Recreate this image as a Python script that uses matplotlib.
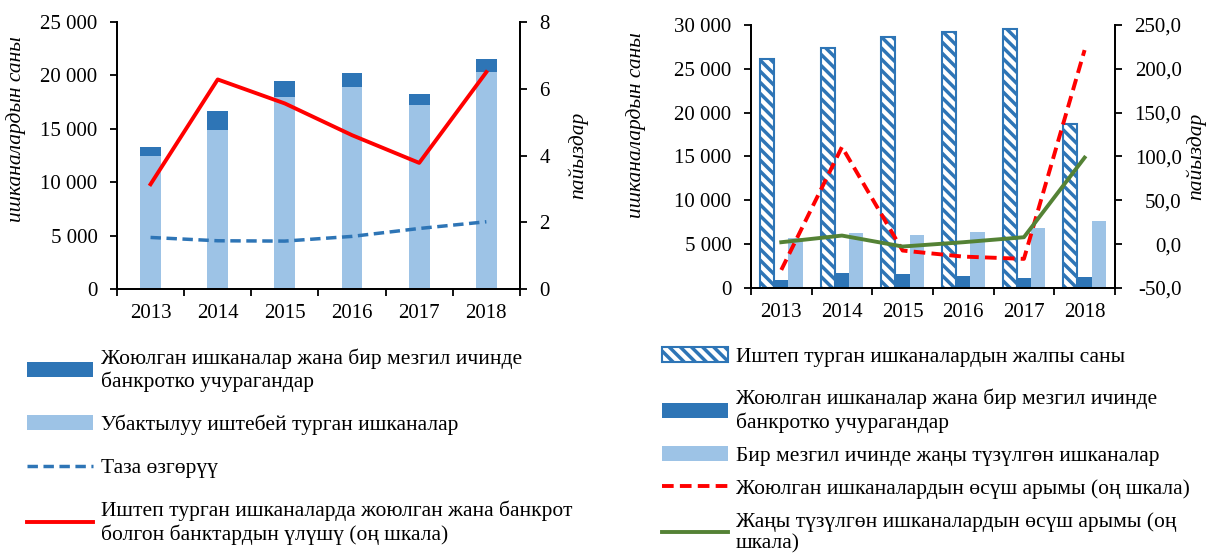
import matplotlib
matplotlib.use("Agg")
import matplotlib.pyplot as plt
import numpy as np
from matplotlib.ticker import FuncFormatter, FixedLocator

plt.rcParams['font.family'] = ['Liberation Serif', 'DejaVu Serif']
plt.rcParams['hatch.linewidth'] = 2.5

years = ['2013', '2014', '2015', '2016', '2017', '2018']

# left chart
idle = [12500, 14930, 17960, 18890, 17200, 20320]           # Убактылуу иштебей турган
closed_left = [780, 1720, 1520, 1310, 1100, 1180]            # Жоюлган ... банкротко
net_change = [4830, 4520, 4490, 4930, 5670, 6300]            # Таза өзгөрүү
closed_share = [3.14, 6.28, 5.56, 4.61, 3.78, 6.5]           # үлүшү (оң шкала), %

# right chart
active_total = [26100, 27330, 28670, 29160, 29580, 18720]
closed_right = [910, 1750, 1640, 1410, 1180, 1300]
new_firms = [5680, 6290, 6100, 6330, 6820, 7590]
closed_growth = [-29.4, 110.9, -7.3, -14.2, -16.8, 221.4]
new_growth = [2.2, 9.8, -2.7, 2.2, 7.9, 98.7]

DARK = '#2E75B6'
LIGHT = '#9DC3E6'
RED = '#FF0000'
GREEN = '#548235'
FS = 15
LFS = 15.5


def space_fmt(v, pos):
    return '{:,.0f}'.format(v).replace(',', ' ')


def comma_fmt(v, pos):
    return '{:.1f}'.format(v).replace('.', ',')


def style_axes(ax, ax2):
    ax.set_xlim(-0.5, 5.5)
    ax.set_xticks(range(6))
    ax.set_xticklabels(years, fontsize=FS)
    ax.xaxis.set_minor_locator(FixedLocator(np.arange(-0.5, 6, 1)))
    ax.tick_params(axis='x', which='major', length=0, pad=11)
    ax.tick_params(axis='x', which='minor', length=5, width=1.3, direction='out')
    ax.tick_params(axis='y', length=5, width=1.3, direction='out', labelsize=FS, pad=9)
    ax2.tick_params(axis='y', length=5, width=1.3, direction='out', labelsize=FS, pad=9)
    for a in (ax, ax2):
        a.spines['top'].set_visible(False)
        for s in ('left', 'right', 'bottom'):
            a.spines[s].set_linewidth(1.3)
    ax.set_ylabel('ишканалардын саны', fontsize=LFS, style='italic')
    ax2.set_ylabel('пайыздар', fontsize=LFS, style='italic', rotation=90)


fig = plt.figure(figsize=(12.12, 5.58), dpi=100)

# ---- left chart
ax = fig.add_axes([0.0965, 0.482, 0.3325, 0.4785])
ax2 = ax.twinx()
x = np.arange(len(years))
b1 = ax.bar(x, idle, width=0.31, color=LIGHT, label='Убактылуу иштебей турган ишканалар')
b2 = ax.bar(x, closed_left, width=0.31, bottom=idle, color=DARK,
            label='Жоюлган ишканалар жана бир мезгил ичинде\nбанкротко учурагандар')
l1, = ax.plot(x, net_change, color=DARK, lw=2.5, ls=(0, (3, 1.6)), label='Таза өзгөрүү')
l2, = ax2.plot(x, closed_share, color=RED, lw=2.8,
               label='Иштеп турган ишканаларда жоюлган жана банкрот\nболгон банктардын үлүшү (оң шкала)')
ax.set_ylim(0, 25000)
ax.yaxis.set_major_formatter(FuncFormatter(space_fmt))
ax2.set_ylim(0, 8)
ax2.set_yticks([0, 2, 4, 6, 8])
style_axes(ax, ax2)
ax.yaxis.set_label_coords(-0.226, 0.6)
ax2.yaxis.set_label_coords(1.119, 0.5)

fig.legend([b2, b1, l1, l2], [b2.get_label(), b1.get_label(), l1.get_label(), l2.get_label()],
           loc='upper left', bbox_to_anchor=(0.022, 0.376), frameon=False, fontsize=LFS,
           handlelength=3.1, handletextpad=0.33, labelspacing=1.05, borderpad=0,
           borderaxespad=0)

# ---- right chart
bx = fig.add_axes([0.6196, 0.4839, 0.3003, 0.4713])
bx2 = bx.twinx()
w = 0.235
c1 = bx.bar(x - w, active_total, width=w, color='white', edgecolor=DARK, hatch='\\\\\\',
            lw=1.5, label='Иштеп турган ишканалардын жалпы саны')
c2 = bx.bar(x, closed_right, width=w, color=DARK,
            label='Жоюлган ишканалар жана бир мезгил ичинде\nбанкротко учурагандар')
c3 = bx.bar(x + w, new_firms, width=w, color=LIGHT,
            label='Бир мезгил ичинде жаңы түзүлгөн ишканалар')
m1, = bx2.plot(x, closed_growth, color=RED, lw=2.8, ls=(0, (3, 1.6)),
               label='Жоюлган ишканалардын өсүш арымы (оң шкала)')
m2, = bx2.plot(x, new_growth, color=GREEN, lw=2.8,
               label='Жаңы түзүлгөн ишканалардын өсүш арымы (оң\nшкала)')
bx.set_ylim(0, 30000)
bx.yaxis.set_major_formatter(FuncFormatter(space_fmt))
bx2.set_ylim(-50, 250)
bx2.set_yticks([-50, 0, 50, 100, 150, 200, 250])
bx2.yaxis.set_major_formatter(FuncFormatter(comma_fmt))
style_axes(bx, bx2)
bx2.tick_params(axis='y', pad=43)
for t in bx2.get_yticklabels():
    t.set_horizontalalignment('right')
bx.yaxis.set_label_coords(-0.288, 0.62)
bx2.yaxis.set_label_coords(1.195, 0.5)

fig.legend([c1], [c1.get_label()],
           loc='upper left', bbox_to_anchor=(0.546, 0.378), frameon=False, fontsize=LFS,
           handlelength=3.1, handletextpad=0.33, borderpad=0, borderaxespad=0)
fig.legend([c2, c3, m1, m2],
           [c2.get_label(), c3.get_label(), m1.get_label(), m2.get_label()],
           loc='upper left', bbox_to_anchor=(0.546, 0.303), frameon=False, fontsize=LFS,
           handlelength=3.1, handletextpad=0.33, labelspacing=0.6, borderpad=0,
           borderaxespad=0)

fig.savefig('out.png', dpi=100)
